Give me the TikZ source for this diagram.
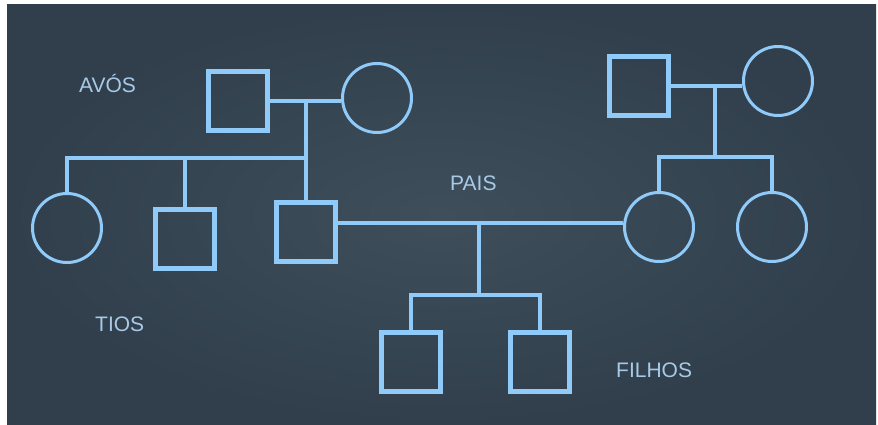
\documentclass[tikz,border=0pt]{standalone}
\usepackage{fontspec}
\setmainfont{Liberation Sans}
\begin{document}
\definecolor{slateIn}{HTML}{3E4E5B}
\definecolor{slateOut}{HTML}{313F4C}
\definecolor{kin}{HTML}{90CAF9}
\definecolor{labeltext}{HTML}{A8CAE6}
\begin{tikzpicture}[x=1pt,y=-1pt,
  male/.style={draw=kin,line width=5pt,minimum size=59pt,inner sep=0pt,shape=rectangle},
  female/.style={draw=kin,line width=3pt,minimum size=69pt,inner sep=0pt,shape=circle},
  link/.style={draw=kin,line width=3.5pt,line join=miter},
  gen/.style={text=labeltext,font=\fontsize{21pt}{25pt}\selectfont,inner sep=0pt,anchor=base west}]
\useasboundingbox (0,0) rectangle (878,425);
\fill[white] (0,0) rectangle (878,425);
\shade[inner color=slateIn,outer color=slateOut] (7,5) rectangle (876,425);

% grandparents
\node[male]   (gfL) at (238,101) {};
\node[female] (gmL) at (377,98) {};
\node[male]   (gfR) at (639,86) {};
\node[female] (gmR) at (778,81) {};

% parents' generation
\node[female] (auntL) at (67,228) {};
\node[male]   (uncle) at (185,239) {};
\node[male]   (father) at (306,232) {};
\node[female] (mother) at (659,227) {};
\node[female] (auntR) at (772,227) {};

% children
\node[male] (kidA) at (411,362) {};
\node[male] (kidB) at (540,362) {};

% junction points
\coordinate (mL) at (306,101);
\coordinate (sL) at (306,158);
\coordinate (mR) at (715,86);
\coordinate (sR) at (715,157);
\coordinate (mP) at (479,223);
\coordinate (sP) at (479,295);

% left family
\draw[link] (gfL.east) -- (gfL.east -| gmL.west);
\draw[link] (mL) -- (father.north);
\draw[link] (auntL.north) |- (sL);
\draw[link] (uncle.north) -- (uncle.north |- sL);

% right family
\draw[link] (gfR.east) -- (gfR.east -| gmR.west);
\draw[link] (mR) -- (sR);
\draw[link] (mother.north) |- (sR) -| (auntR.north);

% parents and children
\draw[link] (father.east |- mP) -- (mother.west |- mP);
\draw[link] (mP) -- (sP);
\draw[link] (kidA.north) |- (sP) -| (kidB.north);

% generation labels
\node[gen] (lblAvos) at (79,93) {AVÓS};
\node[gen] (lblPais) at (450,190) {PAIS};
\node[gen] (lblTios) at (95,331) {TIOS};
\node[gen] (lblFilhos) at (616,377) {FILHOS};
\end{tikzpicture}
\end{document}
